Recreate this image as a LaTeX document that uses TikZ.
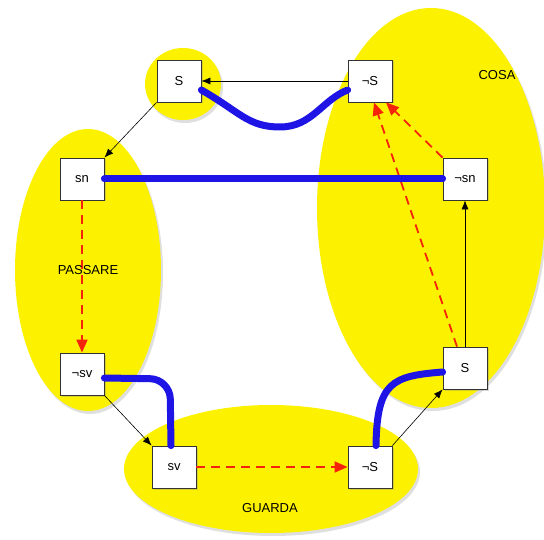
\documentclass[tikz,border=0pt]{standalone}
\usepackage{fontspec}
\setmainfont{Liberation Sans}
\usetikzlibrary{arrows.meta,shadows,calc}
\definecolor{ylw}{RGB}{252,242,0}
\definecolor{blu}{RGB}{30,20,230}
\definecolor{rdd}{RGB}{245,35,10}
\tikzset{
  blob/.style={fill=ylw,draw=none,drop shadow={shadow xshift=2pt,shadow yshift=-3pt,opacity=0.25}},
  box/.style={draw=black!80,fill=white,line width=0.8pt,minimum width=44pt,minimum height=42pt,inner sep=0pt,font=\fontsize{13}{15}\selectfont,drop shadow={shadow xshift=1.5pt,shadow yshift=-1.5pt,opacity=0.3}},
  lbl/.style={font=\fontsize{13}{15}\selectfont},
  blk/.style={draw=black,line width=0.6pt,-{Latex[length=9pt,width=7pt]}},
  red/.style={draw=rdd,line width=1.8pt,dash pattern=on 9pt off 6pt,-{Triangle[length=13pt,width=11pt]}},
  bl/.style={draw=blu,line width=7pt,line cap=round},
}
\begin{document}
\begin{tikzpicture}[x=1pt,y=-1pt]
\useasboundingbox (0,0) rectangle (544,540);
% ellipses
\fill[blob] (183,84) ellipse [x radius=38, y radius=36];
\fill[blob] (88,270) ellipse [x radius=73, y radius=141];
\fill[blob] (431,208) ellipse [x radius=114, y radius=200];
\fill[blob] (271,469) ellipse [x radius=147, y radius=64];
% labels
\node[lbl] (cosa) at (497,75) {COSA};
\node[lbl] (guarda) at (270,508) {GUARDA};
% boxes
\node[box] (S1) at (179,81) {S};
\node[box] (nS1) at (370,81) {¬S};
\node[box] (sn) at (82,179) {sn};
\node[box] (nsn) at (465,179) {¬sn};
\node[box] (nsv) at (82,374) {¬sv};
\node[box] (sv) at (174,467) {sv};
\node[box] (nS2) at (370,467) {¬S};
\node[box] (S2) at (465,368) {S};
% black arrows
\draw[blk] (nS1) -- (S1);
\draw[blk] (S1.south west) -- (sn.north east);
\draw[blk] (nsv.south east) -- (sv.north west);
\draw[blk] (nS2.north east) -- (S2.south west);
\draw[blk] (S2) -- (nsn);
% red dashed arrows
\draw[red] (sn) -- (nsv);
\draw[red] (sv) -- (nS2);
\draw[red] ($(S2.north)+(-8,0)$) -- ($(nS1.south)+(4,0)$);
\draw[red] (nsn.north west) -- ($(nS1.south)+(16,0)$);
% PASSARE label on top of dashed line
\node[lbl] (passare) at (88,270) {PASSARE};
% blue links
\draw[bl] ($(S1.east)+(0,9)$) .. controls (240,112) and (248,127) .. (280,127)
  .. controls (312,127) and (322,100) .. ($(nS1.west)+(0,9)$);
\draw[bl] (sn.east) -- (nsn.west);
\draw[bl,rounded corners=20pt] ($(nsv.east)+(0,4)$) -- (170,379) -- ($(sv.north)+(-3,0)$);
\draw[bl] ($(nS2.north)+(6,0)$) .. controls (377,382) and (392,376) .. ($(S2.west)+(0,4)$);
\end{tikzpicture}
\end{document}
